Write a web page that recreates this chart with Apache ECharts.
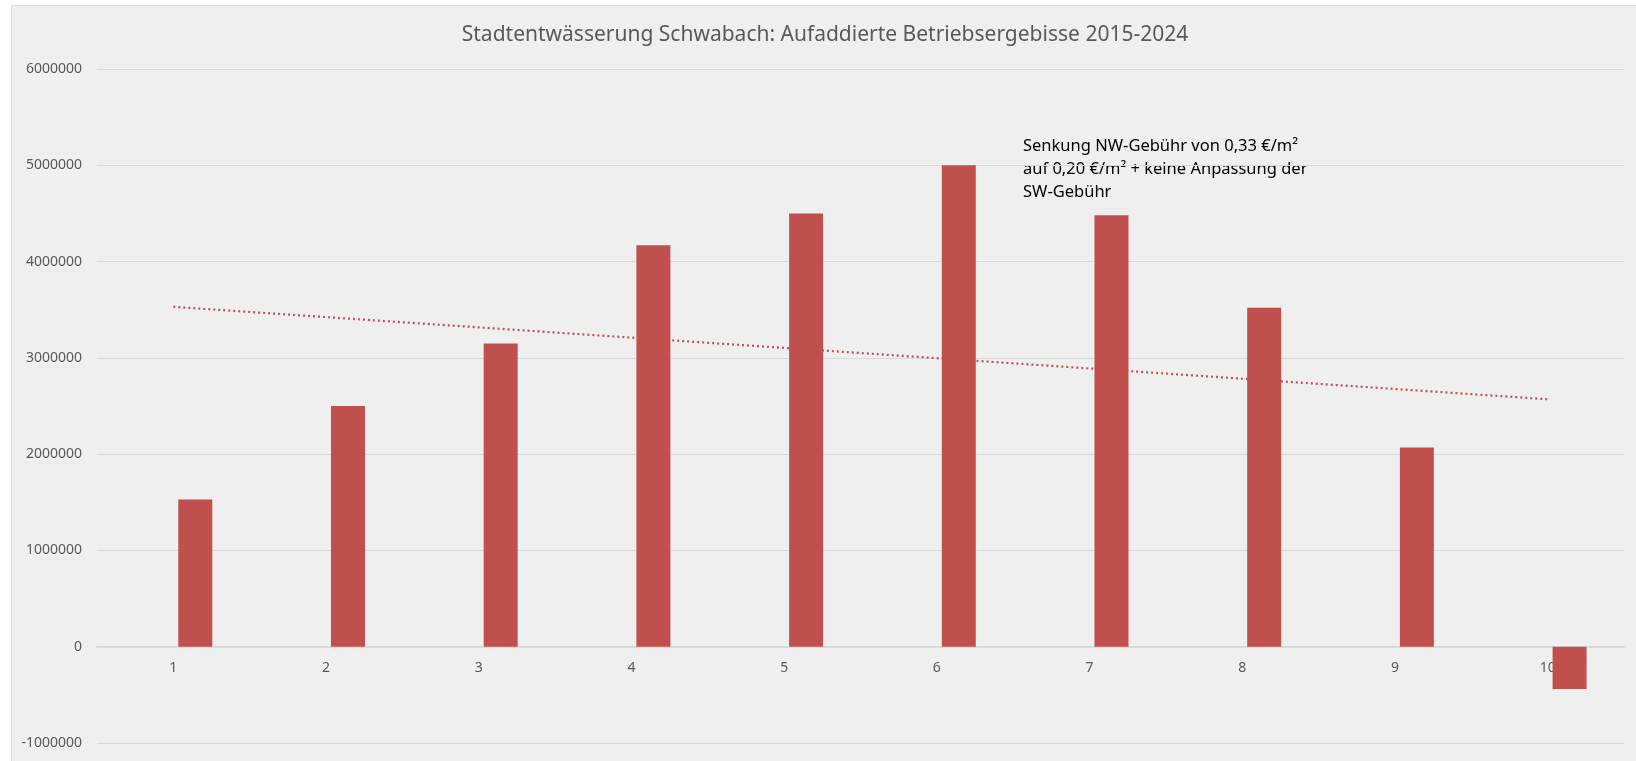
<!DOCTYPE html>
<html>
<head>
<meta charset="utf-8">
<script src="https://cdn.jsdelivr.net/npm/echarts@6/dist/echarts.min.js"></script>
<style>
    html, body { margin: 0; padding: 0; background: #ffffff; }
    #frame {
        position: absolute; left: 11px; top: 5px; width: 1640px; height: 770px;
        background: #efefef; border-left: 1px solid #d9d9d9; border-top: 1px solid #d9d9d9;
    }
    #container { position: absolute; left: 0; top: 0; width: 1636px; height: 761px; }
</style>
</head>
<body>
<div id="frame"></div>
<div id="container"></div>
<script>
    // Daten
    var categories = ['1', '2', '3', '4', '5', '6', '7', '8', '9', '10'];
    var betriebsergebnis = [1530000, 2500000, 3150000, 4170000, 4500000, 5000000, 4480000, 3520000, 2070000, -440000];
    var leer = [null, null, null, null, null, null, null, null, null, null];
    var trend = [3530000, null, null, null, null, null, null, null, null, 2570000];
    var yTicks = {min: -1000000, max: 6000000, interval: 1000000};

    var gridTop = 69, gridBottom = 18, height = 761;
    // Abstand der Nulllinie vom unteren Rand des Plotbereichs
    var zeroOffset = (height - gridTop - gridBottom) * (0 - yTicks.min) / (yTicks.max - yTicks.min);

    var myChart = echarts.init(document.getElementById('container'));

    var option = {
        backgroundColor: 'transparent',
        textStyle: {fontFamily: 'Noto Sans'},
        title: {
            text: 'Stadtentwässerung Schwabach: Aufaddierte Betriebsergebisse 2015-2024',
            left: 820,
            textAlign: 'center',
            top: 20,
            textStyle: {color: '#595959', fontSize: 21, fontWeight: 'normal', fontFamily: 'Noto Sans'}
        },
        grid: {left: 97, right: 12, top: gridTop, bottom: gridBottom, containLabel: false},
        xAxis: {
            type: 'category',
            data: categories,
            position: 'bottom',
            offset: -zeroOffset,
            axisTick: {show: false},
            axisLine: {onZero: false, lineStyle: {color: '#d9d9d9', width: 2}},
            axisLabel: {color: '#595959', fontSize: 14, margin: 14}
        },
        yAxis: {
            type: 'value',
            min: yTicks.min,
            max: yTicks.max,
            interval: yTicks.interval,
            axisLabel: {
                color: '#595959', fontSize: 14, margin: 15,
                formatter: function (v) { return String(v); }
            },
            splitLine: {lineStyle: {color: '#d9d9d9', width: 1}}
        },
        series: [
            {
                name: 'leer',
                type: 'bar',
                data: leer,
                barWidth: 34,
                barGap: '29%'
            },
            {
                name: 'Betriebsergebnis',
                type: 'bar',
                data: betriebsergebnis,
                barWidth: 34,
                barGap: '29%',
                itemStyle: {color: '#c0504d'}
            },
            {
                name: 'Trend',
                type: 'line',
                data: trend,
                connectNulls: true,
                showSymbol: false,
                symbol: 'none',
                lineStyle: {color: '#c0504d', width: 2.2, type: [2, 3]},
                z: 5
            }
        ],
        graphic: [
            {
                type: 'text',
                left: 1023,
                top: 135,
                style: {
                    text: 'Senkung NW-Gebühr von 0,33 €/m²\nauf 0,20 €/m² + keine Anpassung der\nSW-Gebühr',
                    fill: '#000000',
                    fontSize: 16.5,
                    lineHeight: 23,
                    fontFamily: 'Noto Sans'
                }
            }
        ]
    };

    myChart.setOption(option);
</script>
</body>
</html>
